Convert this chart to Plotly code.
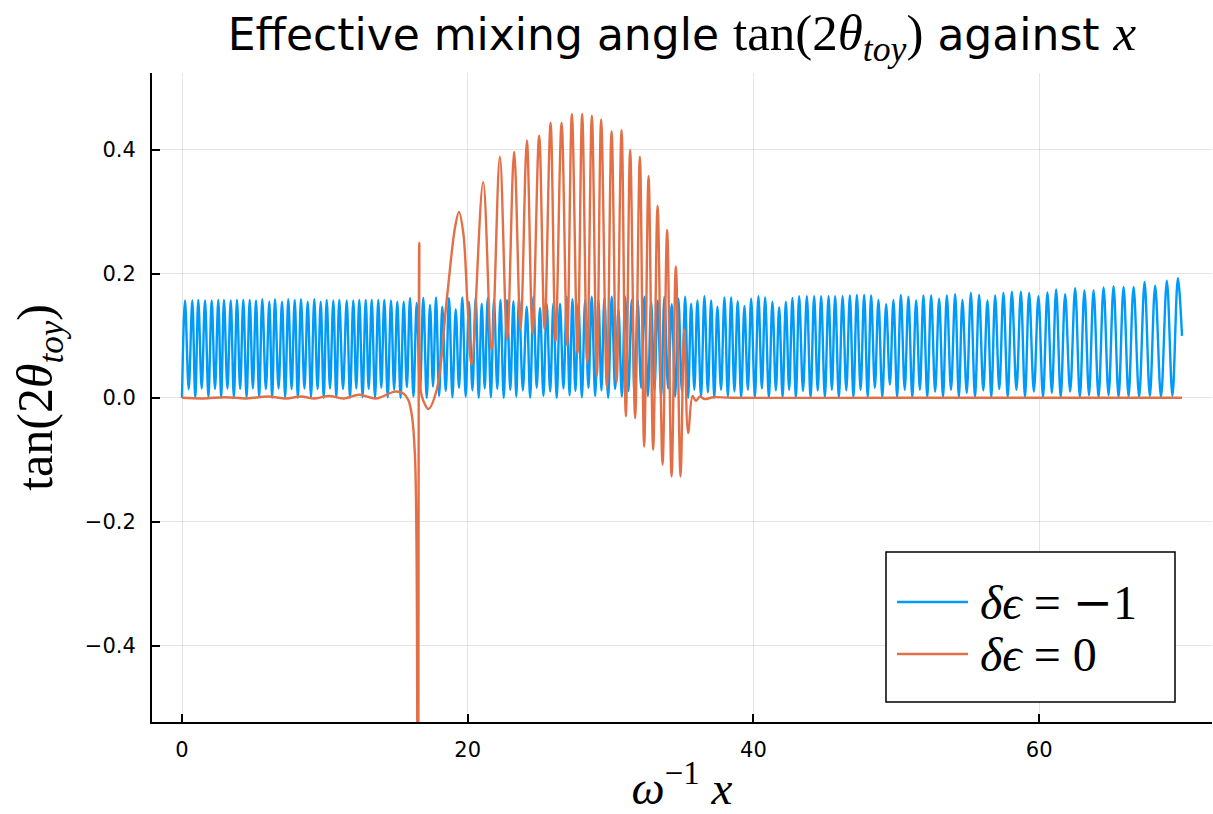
import plotly.graph_objects as go

# ---------------- data ----------------
# series 1: delta epsilon = -1  (fast oscillation), stored as extrema
blue_start_x, blue_start_y = 0.0, 0.0
blue_end_x, blue_end_y = 70.0, 0.100

blue_peak_x = [
    0.21, 0.72, 1.14, 1.61, 2.08, 2.54, 2.94, 3.41, 3.85, 4.29,
    4.74, 5.18, 5.62, 6.11, 6.51, 7.00, 7.44, 7.89, 8.33, 8.80,
    9.26, 9.71, 10.13, 10.59, 11.01,
    11.53, 11.99, 12.41, 12.86, 13.28, 13.74, 14.16, 14.63, 15.07, 15.52,
    15.96, 16.43, 16.89, 17.36, 17.78, 18.22, 18.69, 19.16, 19.62, 20.09,
    20.56, 20.98, 21.40, 21.84, 22.29, 22.75, 23.20,
    23.59, 24.13, 24.60, 25.06, 25.53, 26.00, 26.46, 26.93, 27.33, 27.75,
    28.22, 28.68, 29.15, 29.57, 30.08, 30.55, 31.02, 31.48, 31.90, 32.37,
    32.84, 33.30, 33.77, 34.28, 34.75,
    35.22, 35.64, 36.08, 36.57, 37.04, 37.48, 37.97, 38.44, 38.90, 39.37,
    39.84, 40.35, 40.82, 41.33, 41.80, 42.27, 42.73, 43.20, 43.74, 44.25,
    44.74, 45.26, 45.72, 46.24, 46.75,
    47.24, 47.75, 48.24, 48.75, 49.29, 49.80, 50.32, 50.85, 51.39, 51.90,
    52.44, 53.00, 53.54, 54.12, 54.63, 55.22, 55.80, 56.38, 56.92, 57.50,
    58.09, 58.72,
    59.30, 59.95, 60.58, 61.19, 61.82, 62.52, 63.17, 63.81, 64.51, 65.21,
    65.91, 66.61, 67.38, 68.12, 68.94, 69.71,
]
blue_peak_y = [
    0.157, 0.157, 0.158, 0.157, 0.157, 0.158, 0.158, 0.157, 0.158, 0.158,
    0.158, 0.157, 0.159, 0.155, 0.159, 0.155, 0.159, 0.158, 0.159, 0.155,
    0.159, 0.155, 0.158, 0.157, 0.158,
    0.157, 0.157, 0.158, 0.158, 0.158, 0.158, 0.158, 0.157, 0.155, 0.155,
    0.161, 0.153, 0.161, 0.150, 0.162, 0.147, 0.161, 0.143, 0.162, 0.155,
    0.162, 0.152, 0.161, 0.158, 0.158, 0.158, 0.156,
    0.161, 0.147, 0.163, 0.145, 0.152, 0.153, 0.152, 0.163, 0.159, 0.153,
    0.158, 0.163, 0.158, 0.161, 0.163, 0.143, 0.163, 0.158, 0.158, 0.163,
    0.156, 0.157, 0.163, 0.151, 0.160,
    0.163, 0.152, 0.157, 0.164, 0.157, 0.147, 0.162, 0.162, 0.156, 0.148,
    0.160, 0.164, 0.162, 0.155, 0.146, 0.155, 0.161, 0.164, 0.164, 0.164,
    0.164, 0.164, 0.164, 0.164, 0.165,
    0.166, 0.166, 0.165, 0.158, 0.151, 0.158, 0.166, 0.163, 0.157, 0.165,
    0.165, 0.160, 0.165, 0.167, 0.158, 0.169, 0.166, 0.157, 0.165, 0.169,
    0.171, 0.171,
    0.169, 0.164, 0.170, 0.175, 0.167, 0.177, 0.173, 0.173, 0.178, 0.180,
    0.179, 0.179, 0.187, 0.181, 0.189, 0.193,
]
blue_trough_x = [
    0.47, 0.93, 1.38, 1.85, 2.31, 2.74, 3.18, 3.63, 4.07, 4.52,
    4.96, 5.40, 5.87, 6.31, 6.76, 7.22, 7.67, 8.11, 8.57, 9.03,
    9.49, 9.92, 10.36, 10.80, 11.27,
    11.76, 12.20, 12.64, 13.07, 13.51, 13.95, 14.40, 14.85, 15.30, 15.74,
    16.20, 16.66, 17.13, 17.57, 18.00, 18.46, 18.93, 19.39, 19.86, 20.33,
    20.77, 21.19, 21.62, 22.07, 22.52, 22.98, 23.40,
    23.86, 24.37, 24.83, 25.30, 25.77, 26.23, 26.70, 27.13, 27.54, 27.99,
    28.45, 28.92, 29.36, 29.83, 30.32, 30.79, 31.25, 31.69, 32.14, 32.61,
    33.07, 33.54, 34.03, 34.52, 34.99,
    35.43, 35.86, 36.33, 36.81, 37.26, 37.73, 38.21, 38.67, 39.14, 39.61,
    40.10, 40.59, 41.08, 41.57, 42.04, 42.50, 42.97, 43.47, 44.00, 44.50,
    45.00, 45.49, 45.98, 46.50, 47.00,
    47.50, 48.00, 48.50, 49.02, 49.55, 50.06, 50.59, 51.12, 51.65, 52.17,
    52.72, 53.27, 53.83, 54.38, 54.93, 55.51, 56.09, 56.65, 57.21, 57.80,
    58.41, 59.01,
    59.63, 60.27, 60.89, 61.51, 62.17, 62.85, 63.49, 64.16, 64.86, 65.56,
    66.26, 67.00, 67.75, 68.53, 69.33,
]
blue_trough_y = [
    0.014, 0.000, 0.015, 0.001, 0.014, 0.000, 0.015, 0.001, 0.014, 0.000,
    0.015, 0.001, 0.014, 0.000, 0.015, 0.001, 0.014, 0.000, 0.015, 0.001,
    0.014, 0.000, 0.015, 0.001, 0.014,
    0.000, 0.015, 0.001, 0.014, 0.000, 0.016, 0.001, 0.013, 0.000, 0.017,
    0.002, 0.012, 0.000, 0.018, 0.003, 0.011, 0.001, 0.016, 0.002, 0.012,
    0.000, 0.015, 0.001, 0.014, 0.000, 0.013, 0.002,
    0.012, 0.000, 0.016, 0.003, 0.010, 0.000, 0.015, 0.004, 0.011, 0.001,
    0.016, 0.003, 0.012, 0.000, 0.014, 0.002, 0.011, 0.000, 0.016, 0.003,
    0.012, 0.001, 0.015, 0.002, 0.011,
    0.000, 0.013, 0.001, 0.009, 0.000, 0.013, 0.002, 0.010, 0.000, 0.013,
    0.001, 0.015, 0.000, 0.012, 0.001, 0.013, 0.000, 0.011, 0.000, 0.012,
    0.001, 0.013, 0.000, 0.012, 0.001,
    0.013, 0.001, 0.016, 0.001, 0.021, 0.001, 0.013, 0.001, 0.013, 0.001,
    0.010, 0.001, 0.013, 0.001, 0.008, 0.001, 0.012, 0.001, 0.014, 0.001,
    0.013, 0.001,
    0.010, 0.001, 0.008, 0.001, 0.010, 0.001, 0.004, 0.001, 0.004, 0.001,
    0.002, 0.001, 0.003, 0.001, 0.003,
]

# series 2: delta epsilon = 0
orange_x = [
    0.0, 1.5, 3.0, 4.5, 6.0, 7.3, 8.3, 9.3, 10.3, 11.3,
    12.4, 13.6, 14.9, 15.5, 15.85, 16.1, 16.3, 16.42, 16.52, 16.61,
    16.72, 16.90, 17.24, 17.83, 18.53, 19.12, 19.39, 19.69, 19.97, 20.27,
    21.08, 21.67, 22.25, 22.76, 23.25, 23.70, 24.14, 24.54, 25.00, 25.38,
    25.80, 26.15, 26.57, 26.96, 27.29, 27.69, 28.01, 28.36, 28.69, 29.04,
    29.34, 29.74, 30.07, 30.42, 30.77, 31.07, 31.37, 31.72, 32.05, 32.35,
    32.66, 32.98, 33.29, 33.64, 33.96, 34.27, 34.57, 34.90, 35.15, 35.43,
    35.74, 35.97, 36.25, 36.60, 37.20, 38.50, 50.0, 60.0, 70.0,
]
orange_y = [
    0.000, -0.001, 0.001, -0.001, 0.002, -0.001, 0.002, -0.001, 0.003, -0.001,
    0.005, -0.001, 0.010, 0.007, -0.004, -0.030, -0.090, -0.250, -1.200, 0.250,
    0.010, -0.005, -0.018, 0.013, 0.158, 0.276, 0.300, 0.266, 0.158, 0.053,
    0.348, 0.077, 0.389, 0.094, 0.397, 0.110, 0.415, 0.104, 0.423, 0.111,
    0.444, 0.091, 0.444, 0.085, 0.458, 0.071, 0.458, 0.056, 0.455, 0.035,
    0.449, 0.017, 0.430, 0.024, 0.432, -0.030, 0.400, -0.033, 0.389, -0.079,
    0.358, -0.084, 0.310, -0.108, 0.271, -0.127, 0.212, -0.127, 0.111, -0.057,
    0.003, -0.005, 0.002, -0.002, 0.001, 0.000, 0.000, 0.000, 0.000,
]

series_names = ["δϵ = −1", "δϵ = 0"]
series_colors = ["#009AFA", "#E36F47"]

x_tick_vals = [0, 20, 40, 60]
x_tick_text = ["0", "20", "40", "60"]
y_tick_vals = [-0.4, -0.2, 0.0, 0.2, 0.4]
y_tick_text = ["−0.4", "−0.2", "0.0", "0.2", "0.4"]

# ---------------- build ----------------
assert len(blue_peak_x) == len(blue_peak_y)
assert len(blue_trough_x) == len(blue_trough_y) == len(blue_peak_x) - 1
assert len(orange_x) == len(orange_y)

blue_x = [blue_start_x]
blue_y = [blue_start_y]
for i in range(len(blue_peak_x)):
    blue_x.append(blue_peak_x[i]); blue_y.append(blue_peak_y[i])
    if i < len(blue_trough_x):
        blue_x.append(blue_trough_x[i]); blue_y.append(blue_trough_y[i])
blue_x.append(blue_end_x); blue_y.append(blue_end_y)

SERIF = "Liberation Serif, DejaVu Serif, serif"
SANS = "DejaVu Sans, sans-serif"
LW = 2.4

fig = go.Figure()
fig.add_trace(go.Scatter(x=blue_x, y=blue_y, mode="lines", name=series_names[0],
                         line=dict(color=series_colors[0], width=LW, shape="spline", smoothing=1.0),
                         showlegend=False))
fig.add_trace(go.Scatter(x=orange_x, y=orange_y, mode="lines", name=series_names[1],
                         line=dict(color=series_colors[1], width=LW, shape="spline", smoothing=1.0),
                         showlegend=False))

axis_common = dict(
    showline=True, linecolor="black", linewidth=2, mirror=False,
    ticks="inside", ticklen=8, tickwidth=1.5, tickcolor="black",
    showgrid=True, gridcolor="rgba(0,0,0,0.1)", gridwidth=1,
    zeroline=False, tickfont=dict(family=SANS, size=21, color="black"),
    automargin=False,
)
fig.update_xaxes(range=[-2.1, 72.1], tickvals=x_tick_vals, ticktext=x_tick_text,
                 ticklabelstandoff=8,
                 title=dict(text="<i>ω</i><sup>−1</sup> <i>x</i>", standoff=12,
                            font=dict(family=SERIF, size=47, color="black")),
                 **axis_common)
fig.update_yaxes(range=[-0.523, 0.524], tickvals=y_tick_vals, ticktext=y_tick_text,
                 ticklabelstandoff=10,
                 title=dict(text="tan(2<i>θ</i><sub><i>toy</i></sub>)", standoff=16,
                            font=dict(family=SERIF, size=50, color="black")),
                 **axis_common)

MS = 51  # size of the serif (math) parts of the title
title_html = ('Effective mixing angle <span style="font-family:Liberation Serif;font-size:%dpx">'
              'tan(2<i>θ</i><sub><i>toy</i></sub>)</span> against '
              '<span style="font-family:Liberation Serif;font-size:%dpx"><i>x</i></span>') % (MS, MS)

# legend box drawn in paper coordinates (plot area: x 152..1212 px, y 73..722 px)
PL, PR, PT, PB = 152, 1212, 73, 722
def px(xp):
    return (xp - PL) / (PR - PL)
def py(yp):
    return (PB - yp) / (PB - PT)

shapes = [dict(type="rect", xref="paper", yref="paper",
               x0=px(886), x1=px(1175), y0=py(702), y1=py(552),
               line=dict(color="black", width=1.5), fillcolor="white", layer="above")]
annotations = []
for i, (nm, col) in enumerate(zip(series_names, series_colors)):
    yl = py(602 + 52 * i)
    shapes.append(dict(type="line", xref="paper", yref="paper",
                       x0=px(897), x1=px(968), y0=yl, y1=yl,
                       line=dict(color=col, width=2.5), layer="above"))
    label = (nm.replace("δϵ", "<i>δϵ</i>")
               .replace("−", '<span style="font-family:DejaVu Serif">−</span>'))
    annotations.append(dict(xref="paper", yref="paper", x=px(978), y=yl,
                            xanchor="left", yanchor="middle", showarrow=False,
                            text=label,
                            font=dict(family=SERIF, size=48, color="black")))

fig.update_layout(
    width=1213, height=814,
    margin=dict(l=PL, r=1213 - PR, t=PT, b=814 - PB, pad=0),
    paper_bgcolor="white", plot_bgcolor="white",
    title=dict(text=title_html, x=0.5, xref="paper", y=1 - 35 / 814, yref="container",
               xanchor="center", yanchor="middle",
               font=dict(family=SANS, size=44, color="black")),
    shapes=shapes, annotations=annotations, showlegend=False,
)

fig.write_html("out.html")
